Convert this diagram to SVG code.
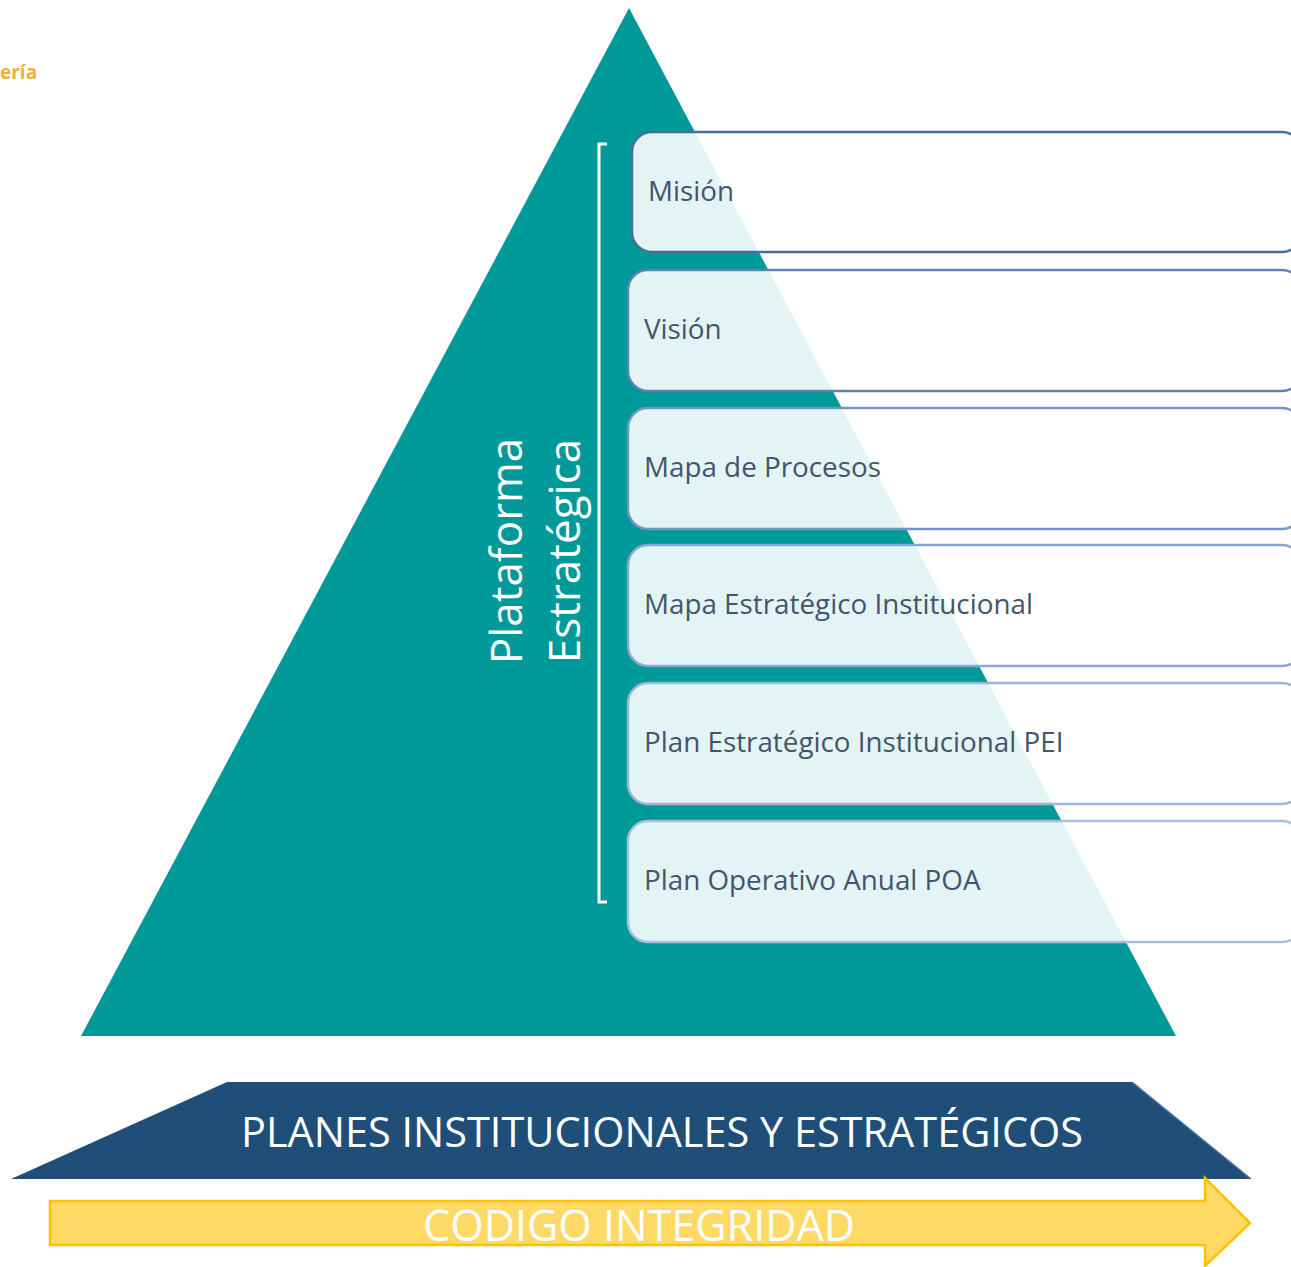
<svg xmlns="http://www.w3.org/2000/svg" width="1291" height="1267" viewBox="0 0 1291 1267">
<style>
.box{fill:#ffffff;fill-opacity:0.89;stroke-width:2.5}
.lbl{font-family:"Open Sans","Liberation Sans",sans-serif;font-size:27.8px;fill:#44546A}
.wt{font-family:"Open Sans","Liberation Sans",sans-serif;fill:#ffffff}
</style>
<rect x="0" y="0" width="1291" height="1267" fill="#ffffff"/>
<text x="0" y="79" font-family="'Open Sans','Liberation Sans',sans-serif" font-size="19" font-weight="bold" fill="#EBAF3A">ería</text>
<g id="pyramid">
<polygon points="629,8 1176,1036 81,1036" fill="#009999"/>
</g>
<g id="platform-label">
<text class="wt" font-size="44" text-anchor="middle" transform="translate(522,551) rotate(-90)">Plataforma</text>
<text class="wt" font-size="44" text-anchor="middle" transform="translate(580,551) rotate(-90)">Estratégica</text>
</g>
<g id="connectors">
<path d="M607,144 H599 V902 H607" fill="none" stroke="#ffffff" stroke-width="3"/>
</g>
<g id="mision">
<rect class="box" x="632" y="132" width="670" height="120" rx="20" stroke="#4A6E9C"/>
<text class="lbl" x="648" y="201">Misión</text>
</g>
<g id="vision">
<rect class="box" x="628" y="270" width="674" height="121" rx="20" stroke="#5E82B3"/>
<text class="lbl" x="644" y="339">Visión</text>
</g>
<g id="mapa-procesos">
<rect class="box" x="628" y="408" width="674" height="121" rx="20" stroke="#7395C3"/>
<text class="lbl" x="644" y="477">Mapa de Procesos</text>
</g>
<g id="mapa-estrategico">
<rect class="box" x="628" y="545" width="674" height="121" rx="20" stroke="#88A6D0"/>
<text class="lbl" x="644" y="614">Mapa Estratégico Institucional</text>
</g>
<g id="pei">
<rect class="box" x="628" y="683" width="674" height="121" rx="20" stroke="#9AB4DA"/>
<text class="lbl" x="644" y="752">Plan Estratégico Institucional PEI</text>
</g>
<g id="poa">
<rect class="box" x="628" y="821" width="674" height="121" rx="20" stroke="#A8C0E0"/>
<text class="lbl" x="644" y="890">Plan Operativo Anual POA</text>
</g>
<g id="planes">
<polygon points="11,1179 227,1082 1132,1082 1251,1179" fill="#1F4E79"/>
<line x1="1132" y1="1082" x2="1251" y2="1179" stroke="#4A76A3" stroke-width="1.5"/>
<text class="wt" x="662" y="1147" font-size="42" text-anchor="middle" textLength="842" lengthAdjust="spacingAndGlyphs">PLANES INSTITUCIONALES Y ESTRATÉGICOS</text>
</g>
<g id="codigo">
<polygon points="50,1201 1205,1201 1205,1178 1250,1223 1205,1266 1205,1245 50,1245" fill="#FFD966" stroke="#FFC000" stroke-width="2.5" stroke-linejoin="miter"/>
<text class="wt" x="639" y="1241" font-size="44" text-anchor="middle" textLength="432" lengthAdjust="spacingAndGlyphs">CODIGO INTEGRIDAD</text>
</g>
</svg>
